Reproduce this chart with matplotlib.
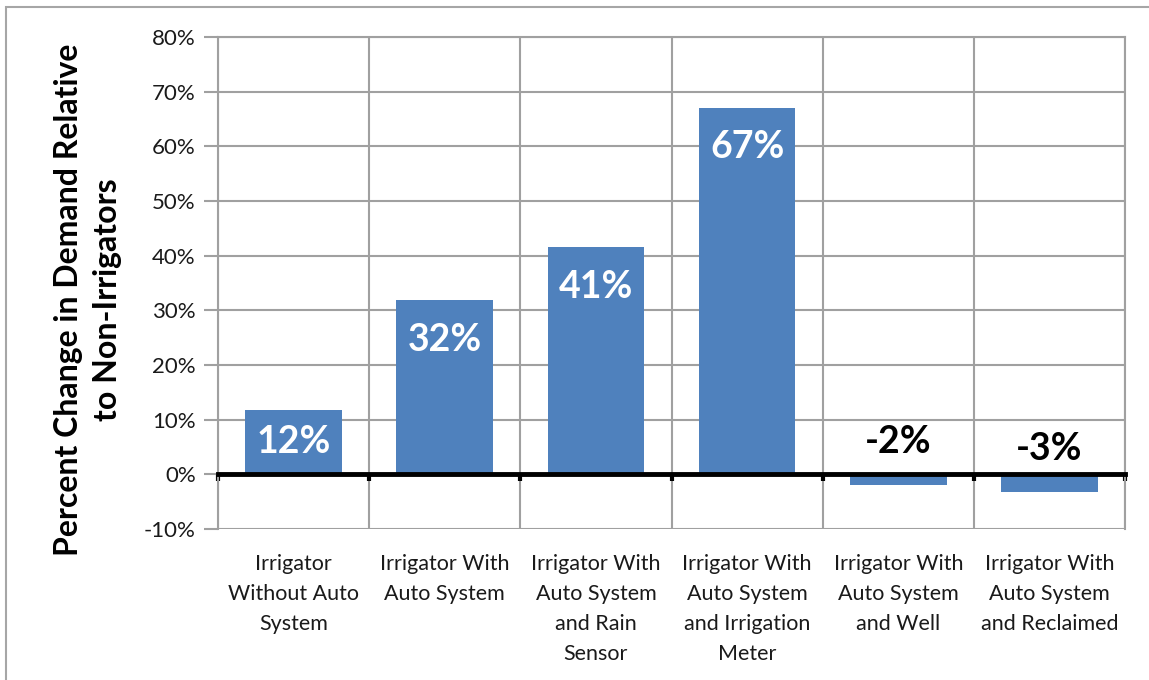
import matplotlib
matplotlib.use("Agg")
import matplotlib.pyplot as plt
from matplotlib.patches import Rectangle
import numpy as np

categories = [
    "Irrigator\nWithout Auto\nSystem",
    "Irrigator With\nAuto System",
    "Irrigator With\nAuto System\nand Rain\nSensor",
    "Irrigator With\nAuto System\nand Irrigation\nMeter",
    "Irrigator With\nAuto System\nand Well",
    "Irrigator With\nAuto System\nand Reclaimed",
]
values = [11.8, 31.9, 41.5, 67.1, -1.9, -3.2]
value_labels = ["12%", "32%", "41%", "67%", "-2%", "-3%"]
ytick_values = [-10, 0, 10, 20, 30, 40, 50, 60, 70, 80]
ytick_labels = ["-10%", "0%", "10%", "20%", "30%", "40%", "50%", "60%", "70%", "80%"]
ylabel = "Percent Change in Demand Relative\nto Non-Irrigators"

plt.rcParams['font.family'] = ['Lato', 'DejaVu Sans']

fig = plt.figure(figsize=(11.49, 6.8), dpi=100)
ax = fig.add_axes([218/1149, 1-529/680, (1125-218)/1149, (529-37)/680])

grid_c = "#a0a0a0"
x = np.arange(len(values))
ax.bar(x, values, width=0.64, color="#4F81BD", zorder=3)

ax.set_xlim(-0.5, len(values) - 0.5)
ax.set_ylim(-10, 80)

# horizontal gridlines
ax.set_yticks(ytick_values)
ax.set_yticklabels(ytick_labels, fontsize=16, color="#1a1a1a")
ax.tick_params(axis='y', length=10, width=1.5, color=grid_c, pad=6, direction='out')
for v in ytick_values:
    if v != 0:
        ax.axhline(v, color=grid_c, lw=1.5, zorder=1)

# vertical gridlines at category boundaries
bounds = np.arange(len(values) + 1) - 0.5
for b in bounds:
    ax.axvline(b, color=grid_c, lw=1.5, zorder=1)

for s in ['left', 'right', 'top']:
    ax.spines[s].set_color(grid_c)
    ax.spines[s].set_linewidth(1.5)
ax.spines['bottom'].set_position(('data', 0))
ax.spines['bottom'].set_linewidth(3.5)
ax.spines['bottom'].set_color('black')
ax.spines['bottom'].set_zorder(4)
ax.set_xticks(bounds)
ax.set_xticklabels([])
ax.tick_params(axis='x', length=5, width=3, color='black', direction='out')

# category labels
trans = matplotlib.transforms.blended_transform_factory(ax.transData, ax.transAxes)
for xi, c in zip(x, categories):
    ax.text(xi, -0.05, c, transform=trans, ha='center', va='top',
            fontsize=15.5, color="#1a1a1a", linespacing=1.63)

# value labels
for xi, v, lab in zip(x, values, value_labels):
    if v >= 0:
        y = max(v - 7.3, v / 2)
        ax.text(xi, y, lab, ha='center', va='center', fontsize=27,
                fontweight='bold', color='white', zorder=5)
    else:
        y = v + 7.8
        ax.text(xi, y, lab, ha='center', va='center', fontsize=27,
                fontweight='bold', color='black', zorder=5)

fig.text(88/1149, 1-300/680, ylabel, rotation=90, ha='center', va='center',
         fontsize=23, fontweight='bold', color='black', linespacing=1.4)

# figure border
fig.patches.append(Rectangle((6/1149, -0.1), 1.2, 1.1 - 7/680, transform=fig.transFigure,
                             fill=False, edgecolor="#a6a6a6", lw=1.5))

fig.savefig("out.png", dpi=100)
